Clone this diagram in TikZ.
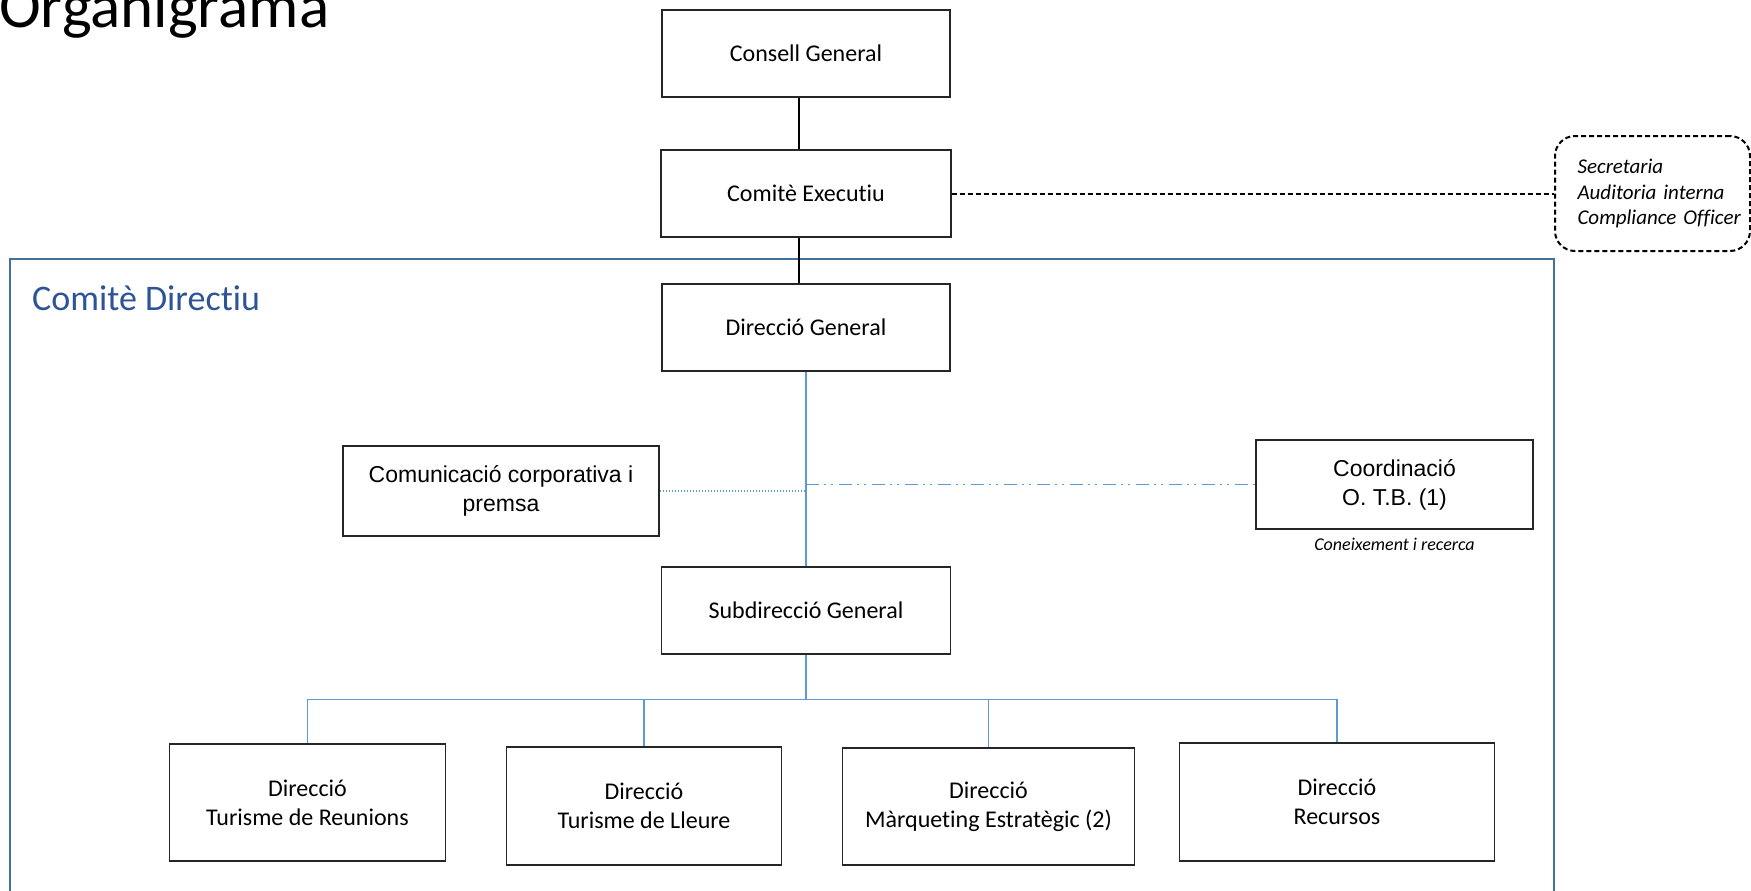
\documentclass[tikz,border=0pt]{standalone}
\usepackage{fontspec}
\setmainfont{Carlito}[Ligatures=NoCommon]
\newfontfamily\arialfont{Liberation Sans}
\usepackage{xcolor}
\usepackage{tikz}
\usetikzlibrary{calc}
\definecolor{linkblue}{HTML}{5B9BD5}
\definecolor{frameblue}{HTML}{41719C}
\definecolor{headblue}{HTML}{2F5496}
\tikzstyle{orgbox} = [rectangle, draw=black!85, line width=1.3pt, fill=white, minimum width=288pt, minimum height=87pt, align=center, font=\fontsize{24}{29}\selectfont]
\tikzstyle{arialbox} = [orgbox, font=\arialfont\fontsize{23}{29}\selectfont]
\tikzstyle{lowbox} = [orgbox, minimum height=117pt]
\tikzstyle{secbox} = [rectangle, rounded corners=20pt, draw=black, line width=2pt, dash pattern=on 5pt off 3pt, minimum width=195pt, minimum height=115pt, text width=150pt, align=left, font=\itshape\fontsize{21}{25.5}\selectfont]
\tikzstyle{blackline} = [draw=black, line width=1.5pt]
\tikzstyle{dashline} = [draw=black, line width=2pt, dash pattern=on 5pt off 3pt]
\tikzstyle{blueline} = [draw=linkblue, line width=1.6pt]
\tikzstyle{dotline} = [blueline, dash pattern=on 1.5pt off 1.5pt]
\tikzstyle{dashdotline} = [blueline, line width=1.8pt, dash pattern=on 13pt off 5pt on 2pt off 5pt on 2pt off 6pt]

\begin{document}
\begin{tikzpicture}[x=1pt, y=-1pt, node distance=140pt]
\useasboundingbox (0,0) rectangle (1751,891);
\draw [frameblue, line width=2pt] (10,259) rectangle (1554,900);
\node (title) [anchor=base west, inner sep=0pt, font=\fontsize{63}{70}\selectfont] at (-1,28) {Organigrama};
\node (cdlabel) [anchor=base west, inner sep=0pt, text=headblue, font=\fontsize{36}{40}\selectfont] at (32,310) {Comitè Directiu};

\node (cg) [orgbox] at (806,53.5) {Consell General};
\node (ce) [orgbox, below of=cg, minimum width=290pt] {Comitè Executiu};
\node (dg) [orgbox, below of=ce, yshift=6pt] {Direcció General};
\node (sdg) [orgbox, below of=dg, yshift=-143pt, minimum width=289pt] {Subdirecció General};
\node (com) [arialbox, below of=dg, xshift=-305pt, yshift=-23.5pt, minimum width=316pt, minimum height=90pt] {Comunicació corporativa i\\premsa};
\node (coord) [arialbox, below of=dg, xshift=588.5pt, yshift=-17pt, minimum width=277pt, minimum height=89pt] {Coordinació\\O. T.B. (1)};
\node (coneix) [anchor=north, inner sep=2pt, font=\itshape\fontsize{18}{22}\selectfont] at ([yshift=-6pt]coord.south) {Coneixement i recerca};
\node (sec) [secbox] at (1652.5,193.5) {\mbox{Secretaria}\\\mbox{Auditoria interna}\\\mbox{Compliance Officer}};

\node (d1) [lowbox, below of=sdg, xshift=-498.5pt, yshift=-52pt, minimum width=276pt] {Direcció\\Turisme de Reunions};
\node (d2) [lowbox, below of=sdg, xshift=-162pt, yshift=-55.5pt, minimum width=275pt, minimum height=118pt] {Direcció\\Turisme de Lleure};
\node (d3) [lowbox, below of=sdg, xshift=182.5pt, yshift=-56pt, minimum width=292pt] {Direcció\\Màrqueting Estratègic (2)};
\node (d4) [lowbox, below of=sdg, xshift=531pt, yshift=-51.5pt, minimum width=315pt, minimum height=118pt] {Direcció\\Recursos};
\coordinate (bus) at ([yshift=-45pt]sdg.south);

\draw [blackline] ([xshift=-7pt]cg.south) -- ([xshift=-7pt]cg.south |- ce.north);
\draw [blackline] ([xshift=-7pt]ce.south) -- ([xshift=-7pt]ce.south |- dg.north);
\draw [dashline] (ce.east) -- (ce.east -| sec.west);
\draw [blueline] (dg) -- (sdg);
\draw [dotline] (com.east) -- (com.east -| dg.south);
\draw [dashdotline] (coord.west -| dg.south) -- (coord.west);
\draw [blueline] (sdg) -- (bus);
\foreach \d in {d1,d2,d3,d4}
  \draw [blueline] (bus) -| (\d.north);
\end{tikzpicture}
\end{document}
